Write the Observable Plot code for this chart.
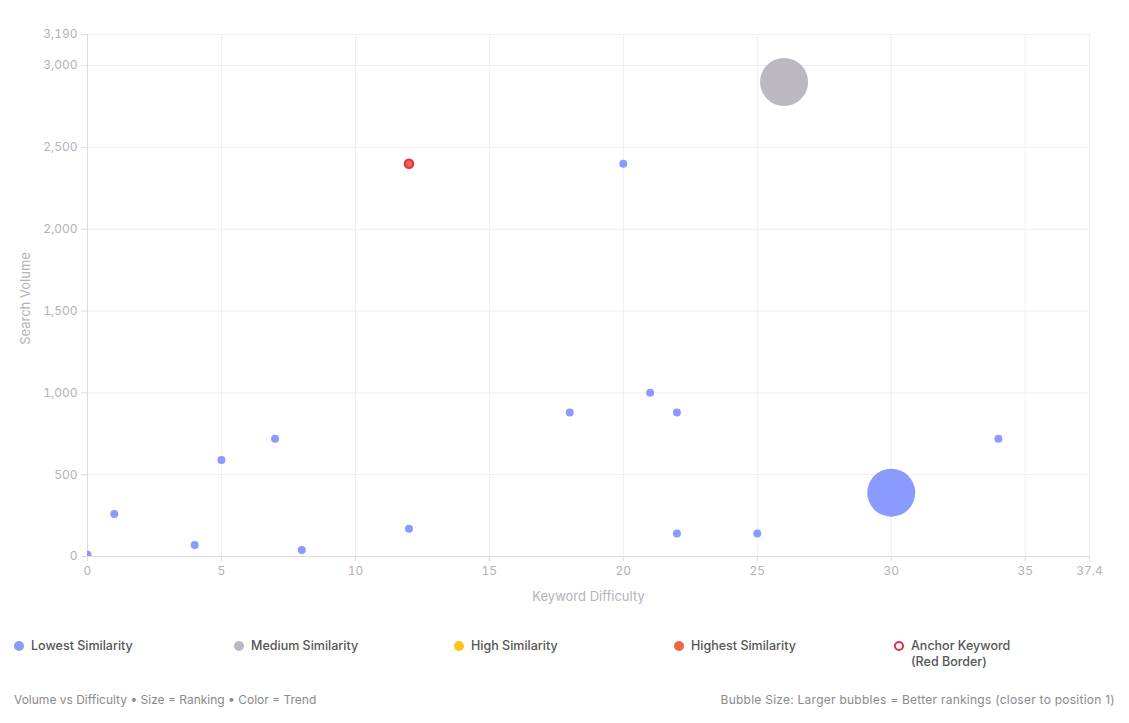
<!DOCTYPE html>
<html>
<head>
<meta charset="utf-8">
<script src="https://cdn.jsdelivr.net/npm/d3@7"></script>
<script src="https://cdn.jsdelivr.net/npm/@observablehq/plot@0.6"></script>
<style>
  html, body { margin: 0; padding: 0; background: #fff; }
  body { width: 1129px; height: 723px; font-family: Inter, "Open Sans", sans-serif; position: relative; overflow: hidden; }
  #chart { position: absolute; left: 0; top: 0; }
  .legend { position: absolute; top: 638px; left: 14px; display: flex; }
  .item { width: 220px; display: flex; align-items: flex-start; font-size: 12.5px; font-weight: 500; color: #555; line-height: 16px; }
  .sw { width: 10px; height: 10px; border-radius: 50%; margin-top: 3px; margin-right: 7px; box-sizing: border-box; flex: none; }
  .foot { position: absolute; top: 692px; font-size: 12px; color: #8a8a8a; }
</style>
</head>
<body>
<div id="chart"></div>
<div class="legend" id="legend"></div>
<div class="foot" style="left:14px">Volume vs Difficulty • Size = Ranking • Color = Trend</div>
<div class="foot" style="right:14px; letter-spacing:0.25px">Bubble Size: Larger bubbles = Better rankings (closer to position 1)</div>
<script>
// Data
const difficulty = [0, 1, 4, 5, 7, 8, 12, 12, 18, 20, 21, 22, 22, 25, 26, 30, 34];
const volume     = [10, 260, 70, 590, 720, 40, 170, 2400, 880, 2400, 1000, 880, 140, 140, 2900, 390, 720];
const ranking    = [100, 100, 100, 100, 100, 100, 100, 100, 100, 100, 100, 100, 100, 100, 1, 1, 100];
const similarity = ["Lowest","Lowest","Lowest","Lowest","Lowest","Lowest","Lowest","Highest","Lowest","Lowest","Lowest","Lowest","Lowest","Lowest","Medium","Lowest","Lowest"];
const anchor     = [false,false,false,false,false,false,false,true,false,false,false,false,false,false,false,false,false];

const categories = ["Lowest", "Medium", "High", "Highest"];
const categoryLabels = ["Lowest Similarity", "Medium Similarity", "High Similarity", "Highest Similarity"];
const categoryColors = ["#8a9bff", "#bbb8c0", "#ffc21a", "#f0653d"];
const anchorColor = "#d9304f";

const xTicks = [0, 5, 10, 15, 20, 25, 30, 35, 37.4];
const yTicks = [0, 500, 1000, 1500, 2000, 2500, 3000, 3190];

const rows = difficulty.map((d, i) => ({
  difficulty: d, volume: volume[i], ranking: ranking[i], similarity: similarity[i], anchor: anchor[i]
}));

const tickColor = "#b4b1bb";
const chart = Plot.plot({
  width: 1129,
  height: 615,
  marginLeft: 87,
  marginRight: 40,
  marginTop: 34,
  marginBottom: 59,
  style: { fontFamily: "Inter, 'Open Sans', sans-serif", fontSize: "12px", color: tickColor, background: "#fff" },
  x: { domain: [0, 37.4] },
  y: { domain: [0, 3190] },
  r: { type: "linear", domain: [100, 1], range: [4, 24] },
  color: { domain: categories, range: categoryColors },
  marks: [
    Plot.gridX(xTicks, { stroke: "#efeff1", strokeOpacity: 1 }),
    Plot.gridY(yTicks, { stroke: "#efeff1", strokeOpacity: 1 }),
    Plot.ruleX([0], { stroke: "#dcdce0" }),
    Plot.ruleY([0], { stroke: "#dcdce0" }),
    Plot.axisY(yTicks, { tickFormat: d3.format(","), tickSize: 6, tickPadding: 4, stroke: "#dcdce0", fill: tickColor, fontSize: 12, label: null }),
    Plot.axisX(xTicks, { tickFormat: d => String(d), tickSize: 5, tickPadding: 5, stroke: "#dcdce0", fill: tickColor, fontSize: 12, label: null }),
    Plot.text(["Search Volume"], { frameAnchor: "left", dx: -62, dy: 3, rotate: -90, fill: tickColor, fontSize: 13, textAnchor: "middle" }),
    Plot.text(["Keyword Difficulty"], { frameAnchor: "bottom", dy: 44, fill: tickColor, fontSize: 13 }),
    Plot.dot(rows.filter(d => !d.anchor), { x: "difficulty", y: "volume", r: "ranking", fill: "similarity", clip: true }),
    Plot.dot(rows.filter(d => d.anchor), { x: "difficulty", y: "volume", r: 4.3, fill: "similarity", stroke: anchorColor, strokeWidth: 2 })
  ]
});
document.getElementById("chart").appendChild(chart);

// Legend
const legend = document.getElementById("legend");
categoryLabels.forEach((label, i) => {
  const it = document.createElement("div");
  it.className = "item";
  it.innerHTML = `<span class="sw" style="background:${categoryColors[i]}"></span><span>${label}</span>`;
  legend.appendChild(it);
});
const a = document.createElement("div");
a.className = "item";
a.innerHTML = `<span class="sw" style="border:2.5px solid ${anchorColor};background:#fff"></span><span>Anchor Keyword<br>(Red Border)</span>`;
legend.appendChild(a);
</script>
</body>
</html>
